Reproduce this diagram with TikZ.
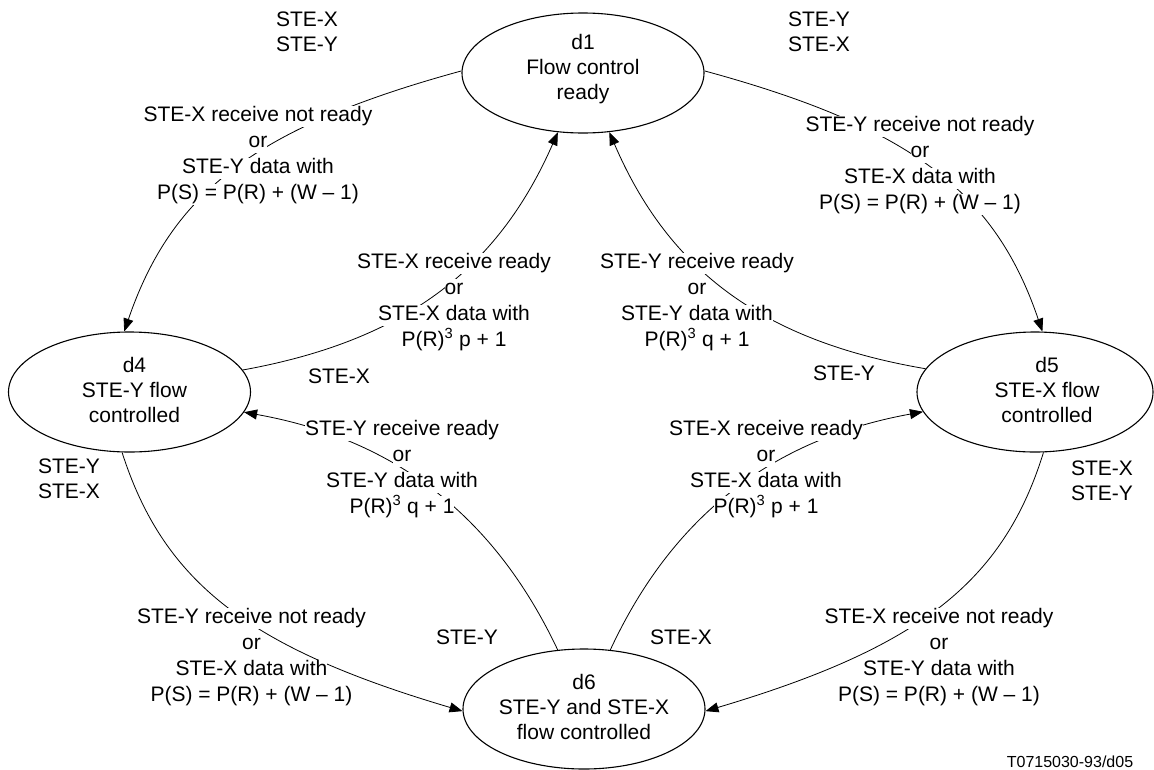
\documentclass[tikz,border=0pt]{standalone}
\usepackage{fontspec}
\setmainfont{Liberation Sans}
\usetikzlibrary{shapes.geometric,arrows.meta}
\setlength{\fboxsep}{0pt}
\newcommand{\wl}[1]{\colorbox{white}{\rule[-5pt]{0pt}{21pt}#1}}
\newcommand{\stxt}[1]{\begin{tabular}{@{}c@{}}#1\end{tabular}}
\begin{document}
\begin{tikzpicture}[x=1pt,y=-1pt,
  state/.style={draw, line width=1.1pt, ellipse, minimum width=242pt, minimum height=120pt, inner sep=0pt, font=\fontsize{21}{25}\selectfont},
  conn/.style={line width=0.8pt, -{Triangle[length=13pt,width=10pt]}},
  lbl/.style={align=center, inner sep=0pt, font=\fontsize{21}{26}\selectfont},
  tag/.style={align=center, inner sep=0pt, font=\fontsize{21}{24.5}\selectfont}]
\fill[white] (0,0) rectangle (1154,769);
\useasboundingbox (0,0) rectangle (1154,769);

% states
\node[state] (d1) at (583,73) {\stxt{d1\\Flow control\\ready\\[7pt]}};
\node[state] (d4) at (129.5,392) {\hspace*{10pt}\stxt{d4\\STE-Y flow\\controlled}};
\node[state, minimum width=236pt] (d5) at (1035,392) {\hspace*{24pt}\stxt{d5\\STE-X flow\\controlled}};
\node[state] (d6) at (584,709) {\stxt{d6\\STE-Y and STE-X\\flow controlled}};

% connectors
\draw[conn] (d1.179) .. controls (256,127) and (172,192) .. (d4.95);
\draw[conn] (d1.1) .. controls (911,127) and (995,192) .. (d5.83);
\draw[conn] (d4.11) .. controls (403,341) and (497,271) .. (d1.247);
\draw[conn] (d5.168) .. controls (763,341) and (669,271) .. (d1.294);
\draw[conn] (d6.114) .. controls (494,515) and (394,439) .. (d4.350);
\draw[conn] (d6.66) .. controls (673,515) and (773,439) .. (d5.190);
\draw[conn] (d4.263) .. controls (164,583) and (249,648) .. (d6.181);
\draw[conn] (d5.278) .. controls (1003,583) and (918,648) .. (d6.359);

% transition labels
\node[lbl] (l1) at (258,155) {\wl{STE-X receive not ready}\\\wl{or}\\\wl{STE-Y data with}\\\wl{P(S) = P(R) + (W – 1)}};
\node[lbl] (l2) at (920,165) {\wl{STE-Y receive not ready}\\\wl{or}\\\wl{STE-X data with}\\\wl{P(S) = P(R) + (W – 1)}};
\node[lbl] (l3) at (454,302) {\wl{STE-X receive ready}\\\wl{or}\\\wl{STE-X data with}\\\wl{P(R)\textsuperscript{3} p + 1}};
\node[lbl] (l4) at (697,302) {\wl{STE-Y receive ready}\\\wl{or}\\\wl{STE-Y data with}\\\wl{P(R)\textsuperscript{3} q + 1}};
\node[lbl] (l5) at (402,469) {\wl{STE-Y receive ready}\\\wl{or}\\\wl{STE-Y data with}\\\wl{P(R)\textsuperscript{3} q + 1}};
\node[lbl] (l6) at (766,469) {\wl{STE-X receive ready}\\\wl{or}\\\wl{STE-X data with}\\\wl{P(R)\textsuperscript{3} p + 1}};
\node[lbl] (l7) at (251.5,657) {\wl{STE-Y receive not ready}\\\wl{or}\\\wl{STE-X data with}\\\wl{P(S) = P(R) + (W – 1)}};
\node[lbl] (l8) at (939,657) {\wl{STE-X receive not ready}\\\wl{or}\\\wl{STE-Y data with}\\\wl{P(S) = P(R) + (W – 1)}};

% station tags
\node[tag] (t1) at (307,32) {STE-X\\STE-Y};
\node[tag] (t2) at (819,32) {STE-Y\\STE-X};
\node[tag] (t3) at (339,376) {STE-X};
\node[tag] (t4) at (844,373) {STE-Y};
\node[tag] (t5) at (69,479) {STE-Y\\STE-X};
\node[tag] (t6) at (1102,481) {STE-X\\STE-Y};
\node[tag] (t7) at (467,637) {STE-Y};
\node[tag] (t8) at (681,637) {STE-X};
\node[inner sep=0pt, font=\fontsize{16}{19}\selectfont] (code) at (1070,762) {T0715030-93/d05};
\end{tikzpicture}
\end{document}
